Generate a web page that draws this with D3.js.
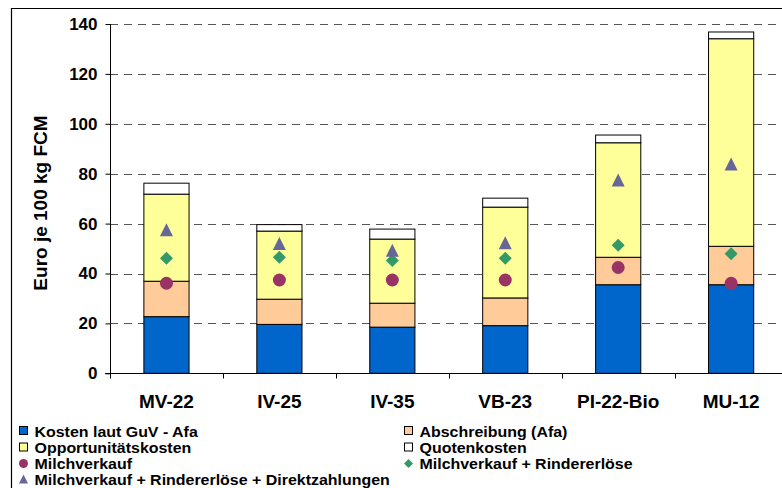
<!DOCTYPE html>
<html>
<head>
<meta charset="utf-8">
<script src="https://cdn.jsdelivr.net/npm/d3@7"></script>
<style>
  html, body { margin: 0; padding: 0; background: #fff; }
  svg { display: block; }
  svg text { font-family: "Liberation Sans", Arial, sans-serif; font-weight: 700; fill: #000; }
</style>
</head>
<body>
<svg id="chart" width="782" height="488"></svg>
<script>
// Farm groups
const categories = ["MV-22", "IV-25", "IV-35", "VB-23", "PI-22-Bio", "MU-12"];

// Stacked cost components (Euro je 100 kg FCM)
const kostenGuV      = [22.7, 19.6, 18.5, 19.1, 35.5, 35.5];
const abschreibung   = [14.2, 10.1,  9.6, 11.1, 11.0, 15.4];
const opportunitaet  = [34.9, 27.3, 25.7, 36.4, 45.9, 83.2];
const quotenkosten   = [ 4.4,  2.6,  4.0,  3.6,  3.1,  2.7];

// Revenue markers (Euro je 100 kg FCM)
const milchverkauf          = [36.1, 37.4, 37.4, 37.4, 42.4, 36.1];
const milchRinder           = [46.1, 46.5, 45.2, 46.1, 51.3, 47.9];
const milchRinderDirekt     = [57.5, 52.0, 49.3, 52.3, 77.5, 83.9];

const yTicks = [0, 20, 40, 60, 80, 100, 120, 140];

const seriesNames = ["Kosten laut GuV - Afa", "Abschreibung (Afa)", "Opportunitätskosten", "Quotenkosten"];
const seriesColors = ["#0066CC", "#FFCC99", "#FFFF99", "#FFFFFF"];
const markerNames = ["Milchverkauf", "Milchverkauf + Rindererlöse", "Milchverkauf + Rindererlöse + Direktzahlungen"];
const markerColors = ["#993366", "#339966", "#666699"];

const svg = d3.select("#chart");

// Outer chart frame (runs past right and bottom edges)
svg.append("path")
  .attr("d", "M11.5,490 L11.5,8.5 L790,8.5")
  .attr("fill", "none").attr("stroke", "#000").attr("stroke-width", 1.2);

const x = d3.scaleBand().domain(categories).range([110, 787.6]).padding(0);
const y = d3.scaleLinear().domain([0, 140]).range([373.3, 24]);
const barW = x.bandwidth() * 0.4;
const cx = c => x(c) + x.bandwidth() / 2;

// Grid lines
svg.append("g").selectAll("line")
  .data(yTicks.filter(v => v > 0))
  .join("line")
  .attr("x1", 110).attr("x2", 782)
  .attr("y1", d => Math.round(y(d)) + 0.5).attr("y2", d => Math.round(y(d)) + 0.5)
  .attr("stroke", "#555").attr("stroke-width", 1.2).attr("stroke-dasharray", "8,6");

// Stacked bars
const table = categories.map((c, i) => ({
  cat: c,
  s0: kostenGuV[i], s1: abschreibung[i], s2: opportunitaet[i], s3: quotenkosten[i]
}));
const stack = d3.stack().keys(["s0", "s1", "s2", "s3"])(table);

svg.append("g").selectAll("g")
  .data(stack)
  .join("g")
  .attr("fill", (d, i) => seriesColors[i])
  .selectAll("rect")
  .data(d => d)
  .join("rect")
  .attr("x", d => cx(d.data.cat) - barW / 2)
  .attr("width", barW)
  .attr("y", d => y(d[1]))
  .attr("height", d => y(d[0]) - y(d[1]))
  .attr("stroke", "#000").attr("stroke-width", 1);

// Axes
const yAxis = d3.axisLeft(y).tickValues(yTicks).tickSize(5).tickPadding(8).tickFormat(d3.format("d"));
const gy = svg.append("g").attr("transform", "translate(110.5,0)").call(yAxis);
gy.attr("font-family", null).attr("font-size", null);
gy.select(".domain").attr("stroke", "#000").attr("d", "M0," + y(140) + "V" + y(0));
gy.selectAll(".tick line").attr("stroke", "#000");
gy.selectAll(".tick text").attr("font-size", 17);

const xAxis = d3.axisBottom(x).tickSize(0).tickFormat("");
const gx = svg.append("g").attr("transform", "translate(0," + (Math.round(y(0)) + 0.5) + ")").call(xAxis);
gx.select(".domain").attr("stroke", "#000").attr("d", "M105,0H782");
gx.selectAll(".tick").remove();
// Category separators
const boundaries = d3.range(categories.length + 1).map(i => x.range()[0] + x.step() * i);
gx.selectAll("line.sep")
  .data(boundaries)
  .join("line")
  .attr("class", "sep")
  .attr("x1", d => Math.round(d) + 0.5).attr("x2", d => Math.round(d) + 0.5)
  .attr("y1", 0).attr("y2", 5).attr("stroke", "#000");

// Category labels
svg.append("g").selectAll("text")
  .data(categories)
  .join("text")
  .attr("x", d => cx(d)).attr("y", 408)
  .attr("text-anchor", "middle").attr("font-size", 19).text(d => d);

// Y axis title
svg.append("text")
  .attr("transform", "translate(47,203) rotate(-90)")
  .attr("text-anchor", "middle").attr("font-size", 19)
  .text("Euro je 100 kg FCM");

// Marker shapes
const circlePath = r => `M${-r},0A${r},${r} 0 1,0 ${r},0A${r},${r} 0 1,0 ${-r},0Z`;
const diamondPath = r => `M0,${-r}L${r},0L0,${r}L${-r},0Z`;
const trianglePath = r => `M0,${-r}L${r},${r}L${-r},${r}Z`;
const shapes = [circlePath, diamondPath, trianglePath];
const markerSeries = [milchverkauf, milchRinder, milchRinderDirekt];
const markerSize = [6.5, 6.5, 6.5];

markerSeries.forEach((vals, k) => {
  svg.append("g").selectAll("path")
    .data(vals)
    .join("path")
    .attr("transform", (v, i) => `translate(${cx(categories[i])},${y(v)})`)
    .attr("d", shapes[k](markerSize[k]))
    .attr("fill", markerColors[k]);
});

// Legend
const legend = svg.append("g");
const legendItems = [
  { col: 0, row: 0, type: "rect", i: 0, label: seriesNames[0] },
  { col: 1, row: 0, type: "rect", i: 1, label: seriesNames[1] },
  { col: 0, row: 1, type: "rect", i: 2, label: seriesNames[2] },
  { col: 1, row: 1, type: "rect", i: 3, label: seriesNames[3] },
  { col: 0, row: 2, type: "mark", i: 0, label: markerNames[0] },
  { col: 1, row: 2, type: "mark", i: 1, label: markerNames[1] },
  { col: 0, row: 3, type: "mark", i: 2, label: markerNames[2] }
];
const colX = [19, 404];
const rowY = [431, 447.5, 463.5, 479];
legendItems.forEach(it => {
  const g = legend.append("g").attr("transform", `translate(${colX[it.col]},${rowY[it.row]})`);
  if (it.type === "rect") {
    g.append("rect").attr("x", 0.5).attr("y", -4.5).attr("width", 8).attr("height", 8)
      .attr("fill", seriesColors[it.i]).attr("stroke", "#000").attr("stroke-width", 1);
  } else {
    g.append("path").attr("transform", "translate(4.5,0)")
      .attr("d", shapes[it.i](4.5)).attr("fill", markerColors[it.i]);
  }
  g.append("text").attr("transform", "translate(15.5,5.5) scale(1.1,1)")
    .attr("font-size", 14.5).text(it.label);
});
</script>
</body>
</html>
